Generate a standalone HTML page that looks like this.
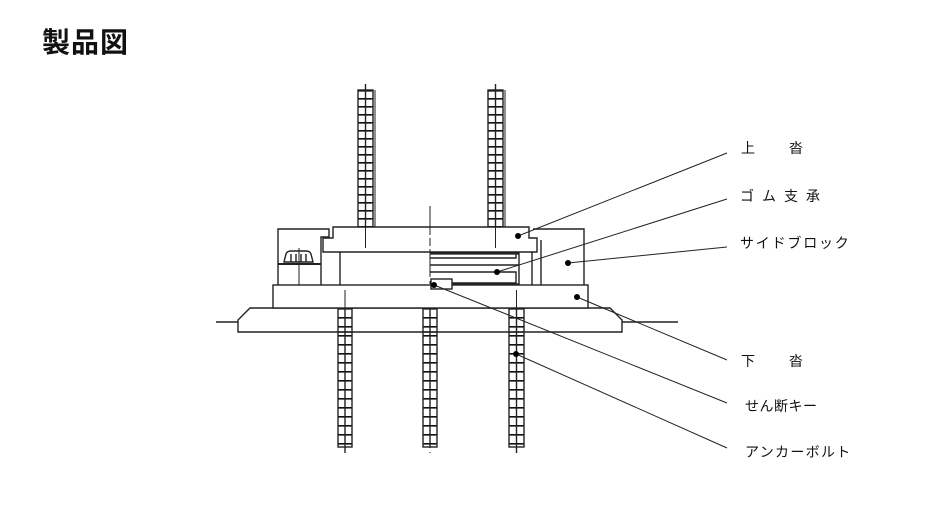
<!DOCTYPE html>
<html><head><meta charset="utf-8"><style>
html,body{margin:0;padding:0;background:#fff;width:930px;height:527px;overflow:hidden}
svg{display:block}
text{font-family:"Liberation Sans","Noto Sans CJK JP",sans-serif;fill:#111}
</style></head><body>
<svg width="930" height="527" viewBox="0 0 930 527" xmlns="http://www.w3.org/2000/svg">
<defs>
<pattern id="rungT" x="0" y="90" width="20" height="8" patternUnits="userSpaceOnUse"><line x1="0" y1="0.8" x2="20" y2="0.8" stroke="#111" stroke-width="1.6"/></pattern>
<pattern id="rungB" x="0" y="308" width="20" height="9" patternUnits="userSpaceOnUse"><line x1="0" y1="0.8" x2="20" y2="0.8" stroke="#111" stroke-width="1.6"/></pattern>
</defs>
<text x="42" y="52" font-size="28" font-weight="bold" letter-spacing="1">製品図</text>
<g fill="none" stroke="#222" stroke-width="1.4">
<!-- top bolts -->
<rect x="358" y="90" width="15" height="138" fill="url(#rungT)"/>
<line x1="375" y1="90" x2="375" y2="228" stroke-width="1"/>
<line x1="365.5" y1="84" x2="365.5" y2="248"/>
<rect x="488" y="90" width="15" height="138" fill="url(#rungT)"/>
<line x1="505" y1="90" x2="505" y2="228" stroke-width="1"/>
<line x1="495.5" y1="84" x2="495.5" y2="248"/>
<!-- bottom bolts -->
<rect x="338" y="308" width="14" height="139" fill="url(#rungB)"/>
<line x1="345" y1="296" x2="345" y2="453"/>
<rect x="423" y="308" width="14" height="139" fill="url(#rungB)"/>
<line x1="430" y1="308" x2="430" y2="447"/>
<rect x="509" y="308" width="15" height="139" fill="url(#rungB)"/>
<line x1="516.5" y1="296" x2="516.5" y2="453"/>
<!-- centerline -->
<line x1="430" y1="206" x2="430" y2="453" stroke-dasharray="30 4 3 4" stroke-width="1"/>
<!-- base plate -->
<polygon points="250,308 610,308 622,320 622,332 238,332 238,320" fill="#fff"/>
<line x1="216" y1="322" x2="238" y2="322"/>
<line x1="622" y1="322" x2="678" y2="322"/>
<rect x="338" y="308" width="14" height="24" fill="url(#rungB)"/>
<line x1="345" y1="308" x2="345" y2="332"/>
<rect x="423" y="308" width="14" height="24" fill="url(#rungB)"/>
<line x1="430" y1="308" x2="430" y2="332"/>
<rect x="509" y="308" width="15" height="24" fill="url(#rungB)"/>
<line x1="516.5" y1="308" x2="516.5" y2="332"/>
<!-- lower plate -->
<rect x="273" y="285" width="315" height="23" fill="#fff"/>
<line x1="345" y1="290" x2="345" y2="308" stroke-width="1"/>
<line x1="516.5" y1="290" x2="516.5" y2="308" stroke-width="1"/>
<!-- left side block -->
<polyline points="278,285 278,229 329,229 329,237 321,237 321,285"/>
<path d="M284,262 L286,254 Q287,251 291,251 L306,251 Q310,251 311,254 L313,262 Z"/>
<line x1="291" y1="254" x2="291" y2="262"/><line x1="296" y1="254" x2="296" y2="262"/><line x1="301" y1="254" x2="301" y2="262"/><line x1="306" y1="254" x2="306" y2="262"/>
<line x1="278" y1="264" x2="321" y2="264" stroke-width="2"/>
<line x1="299" y1="248" x2="299" y2="285" stroke-width="1"/>
<!-- right side block -->
<polyline points="533,229 584,229 584,285"/>
<line x1="541" y1="240" x2="541" y2="285"/>
<!-- upper plate -->
<polygon points="333,227 529,227 529,238 537,238 537,252 323,252 323,238 333,238" fill="#fff"/>
<line x1="365.5" y1="227" x2="365.5" y2="248" stroke-width="1"/>
<line x1="495.5" y1="227" x2="495.5" y2="248" stroke-width="1"/>
<line x1="430" y1="227" x2="430" y2="252" stroke-dasharray="8 3" stroke-width="1"/>
<!-- inner rubber region -->
<line x1="340" y1="252" x2="340" y2="285"/>
<line x1="532" y1="252" x2="532" y2="285"/>
<line x1="519" y1="252" x2="519" y2="285"/>
<line x1="430" y1="253.5" x2="519" y2="253.5" stroke-width="2.2"/>
<polyline points="430,258 516,258 516,253"/>
<line x1="430" y1="265" x2="519" y2="265" stroke-width="1.6"/>
<polyline points="430,272 516,272 516,283 452,283"/>
<line x1="452" y1="284" x2="519" y2="284"/>
<!-- shear key -->
<rect x="431" y="279" width="21" height="10" fill="#fff"/>
<!-- leader lines -->
<g stroke-width="1">
<line x1="518" y1="236" x2="727" y2="153"/>
<line x1="497" y1="272" x2="727" y2="199"/>
<line x1="568" y1="263" x2="727" y2="247"/>
<line x1="577" y1="297" x2="727" y2="360"/>
<line x1="434" y1="285" x2="727" y2="403"/>
<line x1="516" y1="354" x2="727" y2="448"/>
</g>
</g>
<g fill="#000">
<circle cx="518" cy="236" r="3"/><circle cx="497" cy="272" r="3"/><circle cx="568" cy="263" r="3"/>
<circle cx="577" cy="297" r="3"/><circle cx="434" cy="285" r="3"/><circle cx="516" cy="354" r="3"/>
</g>
<g font-size="14">
<text x="741" y="153">上</text><text x="789" y="153">沓</text>
<text x="740" y="201" letter-spacing="8">ゴム支承</text>
<text x="740" y="248" letter-spacing="1.8">サイドブロック</text>
<text x="741" y="366">下</text><text x="789" y="366">沓</text>
<text x="745" y="411" letter-spacing="0.5">せん断キー</text>
<text x="745" y="457" letter-spacing="1.3">アンカーボルト</text>
</g>
</svg>
</body></html>
